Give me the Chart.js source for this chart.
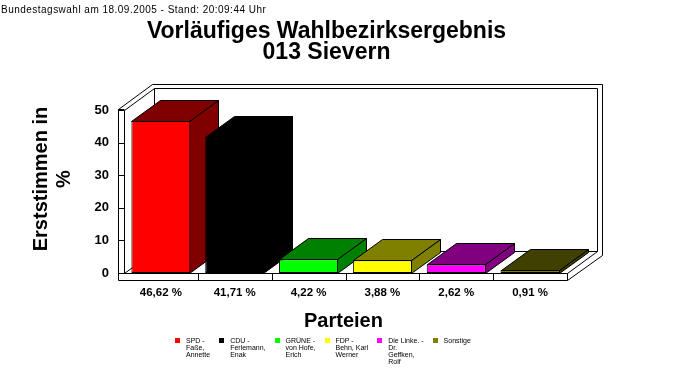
<!DOCTYPE html>
<html><head><meta charset="utf-8">
<script src="https://cdn.jsdelivr.net/npm/chart.js@4.4.0/dist/chart.umd.min.js"></script>
<style>
html,body{margin:0;padding:0;background:#fff;width:683px;height:380px;overflow:hidden;position:relative;font-family:"Liberation Sans",Arial,sans-serif;color:#000;}
#c{position:absolute;left:0;top:0;}
.t{position:absolute;white-space:nowrap;}
#legend{position:absolute;left:175px;top:336.7px;display:flex;align-items:flex-start;}
.li{display:flex;align-items:flex-start;margin-right:9px;}
.sq{width:5px;height:5px;margin-top:1px;margin-right:6px;flex:none;}
.lt{font-size:7px;line-height:7.2px;white-space:nowrap;}
</style></head><body>
<canvas id="c" width="683" height="380"></canvas>
<div class="t" style="left:1px;top:4.5px;font-size:10px;line-height:10px;letter-spacing:0.48px;">Bundestagswahl am 18.09.2005 - Stand: 20:09:44 Uhr</div>
<div class="t" style="left:0;width:653px;top:19.5px;text-align:center;font-weight:bold;font-size:23px;line-height:21px;">Vorläufiges Wahlbezirksergebnis<br>013 Sievern</div>
<div class="t" style="left:-48.4px;top:155.5px;width:200px;height:46px;text-align:center;font-weight:bold;font-size:20px;line-height:23px;transform:rotate(-90deg);transform-origin:50% 50%;">Erststimmen in<br>%</div>
<div class="t" style="left:243.5px;width:200px;top:310px;text-align:center;font-weight:bold;font-size:20px;line-height:20px;">Parteien</div>
<div id="legend"></div>
<script>
// ---- data ----
const categories = ['SPD', 'CDU', 'GRÜNE', 'FDP', 'Die Linke.', 'Sonstige'];
const values = [46.62, 41.71, 4.22, 3.88, 2.62, 0.91];
const tickLabels = ['46,62 %', '41,71 %', '4,22 %', '3,88 %', '2,62 %', '0,91 %'];
const yTicks = [0, 10, 20, 30, 40, 50];
const legendLines = [
  ['SPD -', 'Faße,', 'Annette'],
  ['CDU -', 'Ferlemann,', 'Enak'],
  ['GRÜNE -', 'von Hofe,', 'Erich'],
  ['FDP -', 'Behn, Karl', 'Werner'],
  ['Die Linke. -', 'Dr.', 'Geffken,', 'Rolf'],
  ['Sonstige']
];
// ---- styles ----
const frontColors = ['#ff0000', '#000000', '#00ff00', '#ffff00', '#ff00ff', '#808000'];
const darkColors  = ['#800000', '#000000', '#008000', '#808000', '#800080', '#404000'];

// legend (HTML)
const lg = document.getElementById('legend');
categories.forEach((c, i) => {
  const it = document.createElement('div'); it.className = 'li';
  const sq = document.createElement('div'); sq.className = 'sq'; sq.style.background = frontColors[i];
  const tx = document.createElement('div'); tx.className = 'lt';
  legendLines[i].forEach((ln, k) => { if (k) tx.appendChild(document.createElement('br')); tx.appendChild(document.createTextNode(ln)); });
  it.appendChild(sq); it.appendChild(tx); lg.appendChild(it);
});

const yMin = yTicks[0], yMax = yTicks[yTicks.length - 1];
const BDX = 29, BDY = -21;   // bar depth
const FDX = 30, FDY = -22;   // frame depth

function poly(ctx, pts, fill) {
  ctx.beginPath();
  pts.forEach((p, i) => i ? ctx.lineTo(p[0], p[1]) : ctx.moveTo(p[0], p[1]));
  ctx.closePath();
  if (fill) { ctx.fillStyle = fill; ctx.fill(); }
  ctx.stroke();
}
function line(ctx, x1, y1, x2, y2) {
  ctx.beginPath(); ctx.moveTo(x1, y1); ctx.lineTo(x2, y2); ctx.stroke();
}

const box3d = {
  id: 'box3d',
  beforeDatasetsDraw(chart) {
    const ctx = chart.ctx, a = chart.chartArea, xs = chart.scales.x, ys = chart.scales.y;
    const L = Math.round(a.left) + 0.5, R = Math.round(a.right) + 0.5;
    const T = Math.round(ys.getPixelForValue(yMax)) + 0.5, B = Math.round(ys.getPixelForValue(yMin)) + 0.5;
    ctx.save();
    ctx.strokeStyle = '#000'; ctx.lineWidth = 1;
    // outer silhouette
    poly(ctx, [[L - 6, B + 7], [L - 6, T - 1], [L - 6 + 34, T - 26], [R + 35, T - 26], [R + 35, B - 18], [R, B + 7]], '#fff');
    // back wall inner face
    poly(ctx, [[L + FDX, T + FDY], [R + FDX, T + FDY], [R + FDX, B + FDY], [L + FDX, B + FDY]], '#fff');
    // left wall
    line(ctx, L, T, L, B);
    line(ctx, L - 6, T - 1, L, T - 1);
    line(ctx, L, T, L + FDX, T + FDY);
    // floor
    line(ctx, L, B, R, B);
    line(ctx, R, B, R, B + 7);
    line(ctx, R, B, R + FDX, B + FDY);
    line(ctx, L, B, L + FDX, B + FDY);
    // floor ticks at category boundaries
    for (let i = 0; i < categories.length - 1; i++) {
      const bx = Math.round((xs.getPixelForValue(i) + xs.getPixelForValue(i + 1)) / 2) + 0.5;
      line(ctx, bx, B, bx, B + 7);
    }
    // y ticks on left wall
    yTicks.forEach(v => {
      const py = Math.round(ys.getPixelForValue(v)) + 0.5;
      line(ctx, L - 6, py, L, py);
    });
    // bar sides and tops
    const meta = chart.getDatasetMeta(0);
    meta.data.forEach((el, i) => {
      const p = el.getProps(['x', 'y', 'base', 'width'], true);
      const l = Math.round(p.x - p.width / 2) + 0.5, r = Math.round(p.x + p.width / 2) - 0.5;
      const t = Math.round(p.y) + 0.5, b = Math.round(p.base) + 0.5;
      poly(ctx, [[r, t], [r + BDX, t + BDY], [r + BDX, b + BDY], [r, b]], darkColors[i]);
      poly(ctx, [[l, t], [l + BDX, t + BDY], [r + BDX, t + BDY], [r, t]], darkColors[i]);
    });
    ctx.restore();
  }
};

const fam = '"Liberation Sans", Arial, sans-serif';
new Chart(document.getElementById('c').getContext('2d'), {
  type: 'bar',
  data: {
    labels: categories,
    datasets: [{
      data: values,
      backgroundColor: frontColors,
      borderColor: '#000',
      borderWidth: 1,
      borderSkipped: false,
      barPercentage: 0.8,
      categoryPercentage: 1
    }]
  },
  options: {
    responsive: false,
    animation: false,
    devicePixelRatio: 1,
    layout: { padding: { left: 0, right: 116, top: 110, bottom: 77 } },
    plugins: { legend: { display: false }, tooltip: { enabled: false }, title: { display: false } },
    scales: {
      x: {
        grid: { display: false, drawTicks: false },
        border: { display: false },
        ticks: {
          padding: 13, color: '#000', maxRotation: 0, autoSkip: false,
          font: { family: fam, size: 11.5, weight: 'bold' },
          callback: (v, i) => tickLabels[i]
        },
        afterFit(s) { s.height = 30; s.paddingLeft = 0; s.paddingRight = 0; }
      },
      y: {
        min: yMin, max: yMax,
        grid: { display: false, drawTicks: false },
        border: { display: false },
        ticks: {
          stepSize: 10, padding: 15, color: '#000',
          font: { family: fam, size: 13, weight: 'bold' }
        },
        afterFit(s) { s.width = 124; s.paddingTop = 0; s.paddingBottom = 0; }
      }
    }
  },
  plugins: [box3d]
});
</script>
</body></html>
